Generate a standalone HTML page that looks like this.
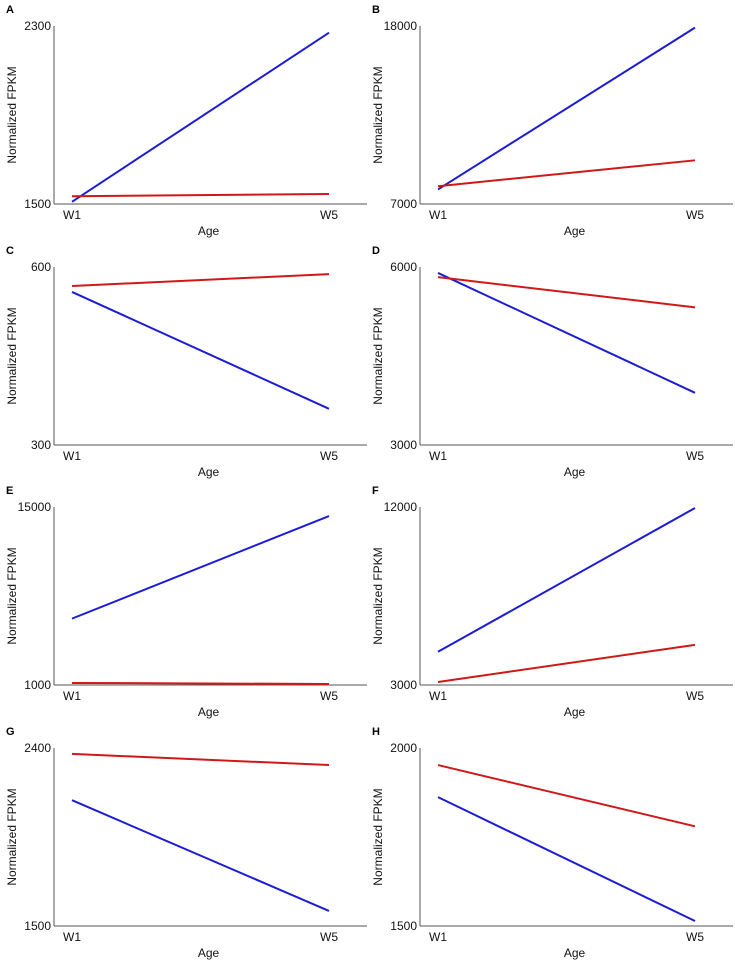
<!DOCTYPE html>
<html><head><meta charset="utf-8"><style>
body{margin:0;background:#fff;}
svg{display:block;font-family:"Liberation Sans",Arial,sans-serif;}
</style></head><body>
<svg id="c" width="735" height="960"></svg>
<script>
const panels=["A","B","C","D","E","F","G","H"];
const categories=["W1","W5"];
const yMin=[1500,7000,300,3000,1000,3000,1500,1500];
const yMax=[2300,18000,600,6000,15000,12000,2400,2000];
const blueVals=[[1510,2270],[7900,17900],[558,361],[5900,3880],[6220,14290],[4680,11950],[2136,1576],[1862,1514]];
const redVals=[[1535,1545],[8100,9700],[568,588],[5830,5320],[1160,1080],[3150,5030],[2370,2314],[1952,1780]];
const NS="http://www.w3.org/2000/svg";
const svg=document.getElementById('c');
function mk(t,a,p){const e=document.createElementNS(NS,t);for(const k in a)e.setAttribute(k,a[k]);(p||svg).appendChild(e);return e;}
const rowTops=[26,267,507,748];
panels.forEach((p,i)=>{
  const col=i%2,row=Math.floor(i/2);
  const ax=col?420:54, top=rowTops[row], bot=top+178, right=col?733:367;
  const x0=col?438:72, x1=col?695:329;
  const g=mk('g',{});
  
  
  const xs=k=>x0+(x1-x0)*k/(categories.length-1);
  const ys=v=>bot-(v-yMin[i])/(yMax[i]-yMin[i])*(bot-top);
  let t=mk('text',{x:col?372:6,y:top-13,'font-size':11,'font-weight':'bold',fill:'#000'},g);t.textContent=p;
  
  let l=mk('line',{x1:ax,y1:top,x2:ax,y2:bot,stroke:'#555','stroke-width':1},g);
  
  l=mk('line',{x1:ax,y1:bot,x2:right,y2:bot,stroke:'#555','stroke-width':1},g);
  
  [yMax[i],yMin[i]].forEach(v=>{const tt=mk('text',{x:ax-3,y:ys(v)+4,'font-size':12,'text-anchor':'end',fill:'#111'},g);tt.textContent=v;
    });
  categories.forEach((c,k)=>{const tt=mk('text',{x:xs(k),y:bot+15,'font-size':12,'text-anchor':'middle',fill:'#111'},g);tt.textContent=c;
    });
  t=mk('text',{x:(ax+right)/2-2,y:top+209,'font-size':12,'text-anchor':'middle',fill:'#111'},g);t.textContent='Age';
  
  const yc=(top+bot)/2, xl=col?382:16;
  t=mk('text',{x:xl,y:yc,'font-size':12,'text-anchor':'middle',fill:'#111',transform:`rotate(-90 ${xl} ${yc})`},g);t.textContent='Normalized FPKM';
  
  [[blueVals[i],'#1c1cd6','blue-line'],[redVals[i],'#d01818','red-line']].forEach(([vals,colr,nm])=>{
    const pts=vals.map((v,k)=>xs(k)+','+ys(v)).join(' ');
    const pl=mk('polyline',{points:pts,fill:'none',stroke:colr,'stroke-width':2},g);
    
  });
});
</script>
</body></html>
